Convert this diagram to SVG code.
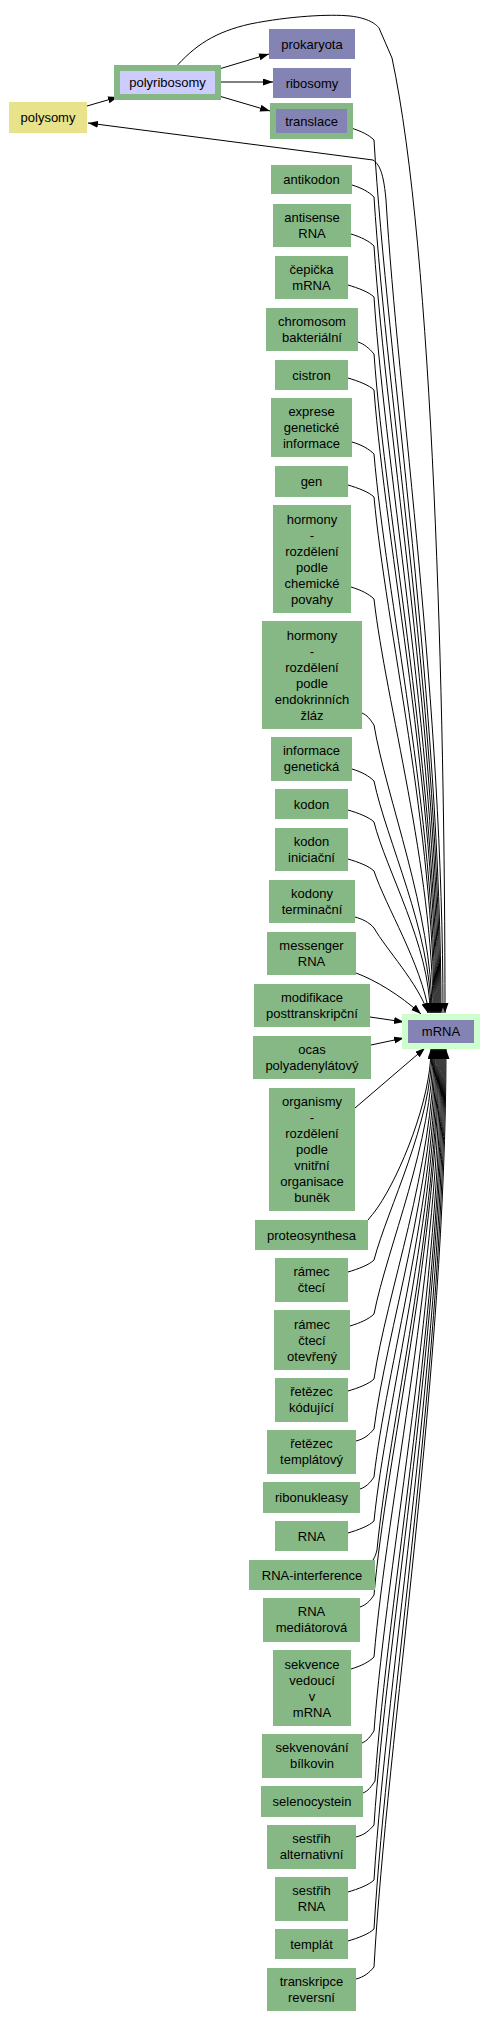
<svg xmlns="http://www.w3.org/2000/svg" width="484" height="2018" viewBox="0 0 484 2018">
<style>
.g{fill:#86b886}
.p{fill:#8484b4}
.l{fill:#ccccff}
.y{fill:#e8e28a}
.m{fill:#ccffcc}
text{font-family:"Liberation Sans",Arial,sans-serif;font-size:13px;fill:#000;text-anchor:middle}
.e path{fill:none;stroke:#000;stroke-width:1}
</style>
<defs>
<marker id="a" markerUnits="userSpaceOnUse" markerWidth="11" markerHeight="8" refX="10" refY="3.5" orient="auto">
<path d="M0,0 L10,3.5 L0,7 z" fill="#000"/>
</marker>
</defs>
<rect width="484" height="2018" fill="#fff"/>
<g class="e" id="connectors">
<path marker-end="url(#a)" d="M87,106 L118,97"/>
<path marker-end="url(#a)" d="M219,69 L269,54"/>
<path marker-end="url(#a)" d="M219,82 L273,82"/>
<path marker-end="url(#a)" d="M219,96 L270,111"/>
<path marker-end="url(#a)" d="M174,69 C195,45 215,32 250,24 C290,16 330,14 350,16 C368,18 376,24 379,28 L392,58 C433,250 445,700 445,1013"/>
<path marker-end="url(#a)" d="M443,1013 C443,700 398,400 386,200 C384,178 381,165 373,160 L88,123"/>
<path marker-end="url(#a)" d="M351,128 C361,131 369,135 374,140 C387,358 441,707 441,1013"/>
<path marker-end="url(#a)" d="M352,185 C362,188 369,192 374,197 C387,401 440,727 440,1013"/>
<path marker-end="url(#a)" d="M351,234 C361,237 369,241 374,246 C387,438 439,745 439,1013"/>
<path marker-end="url(#a)" d="M348,285 C358,288 369,292 374,297 C386,476 438,762 438,1013"/>
<path marker-end="url(#a)" d="M358,342 C364,344 369,348 374,354 C386,519 437,782 437,1013"/>
<path marker-end="url(#a)" d="M348,378 C358,381 369,385 374,390 C386,546 436,795 436,1013"/>
<path marker-end="url(#a)" d="M352,442 C362,445 369,449 374,454 C386,594 435,817 435,1013"/>
<path marker-end="url(#a)" d="M348,485 C358,488 369,492 374,497 C386,626 434,832 434,1013"/>
<path marker-end="url(#a)" d="M351,587 C361,590 369,594 374,599 C386,703 433,868 433,1013"/>
<path marker-end="url(#a)" d="M362,713 C367,715 370,719 374,725 C386,797 432,912 432,1013"/>
<path marker-end="url(#a)" d="M352,769 C362,772 369,776 374,781 C386,839 431,932 431,1013"/>
<path marker-end="url(#a)" d="M348,810 C358,813 369,817 374,822 C386,870 430,946 430,1013"/>
<path marker-end="url(#a)" d="M348,859 C358,862 369,866 374,871 C386,907 421,963 429,1013"/>
<path marker-end="url(#a)" d="M355,917 C362,919 369,922 374,928 C386,949 418,983 428,1013"/>
<path marker-end="url(#a)" d="M356,973 C375,980 400,995 421,1014"/>
<path marker-end="url(#a)" d="M370,1017 L404,1022"/>
<path marker-end="url(#a)" d="M371,1045 L404,1038"/>
<path marker-end="url(#a)" d="M355,1108 L425,1048"/>
<path marker-end="url(#a)" d="M368,1220 C371,1216 374,1213 378,1207 C400,1175 431,1100 431,1049"/>
<path marker-end="url(#a)" d="M348,1272 C358,1269 369,1265 374,1260 C388,1207 432,1123 432,1049"/>
<path marker-end="url(#a)" d="M350,1326 C360,1323 369,1319 374,1314 C387,1248 433,1142 433,1049"/>
<path marker-end="url(#a)" d="M348,1391 C358,1388 369,1384 374,1379 C386,1296 434,1165 434,1049"/>
<path marker-end="url(#a)" d="M356,1441 C364,1439 369,1435 374,1429 C386,1334 435,1182 435,1049"/>
<path marker-end="url(#a)" d="M360,1489 C366,1487 370,1483 374,1477 C386,1370 436,1199 436,1049"/>
<path marker-end="url(#a)" d="M348,1533 C358,1530 369,1526 374,1521 C386,1403 437,1214 437,1049"/>
<path marker-end="url(#a)" d="M373,1560 C375,1557 376,1554 377,1550 C389,1425 438,1224 438,1049"/>
<path marker-end="url(#a)" d="M360,1607 C366,1605 370,1601 374,1595 C386,1458 439,1240 439,1049"/>
<path marker-end="url(#a)" d="M351,1669 C361,1666 369,1662 374,1657 C387,1505 440,1262 440,1049"/>
<path marker-end="url(#a)" d="M362,1743 C367,1741 370,1737 374,1731 C387,1560 441,1288 441,1049"/>
<path marker-end="url(#a)" d="M363,1793 C368,1791 371,1787 375,1781 C388,1598 442,1305 442,1049"/>
<path marker-end="url(#a)" d="M356,1837 C364,1835 369,1831 374,1825 C387,1631 443,1321 443,1049"/>
<path marker-end="url(#a)" d="M348,1892 C358,1889 369,1885 374,1880 C387,1672 444,1340 444,1049"/>
<path marker-end="url(#a)" d="M348,1941 C358,1938 369,1934 374,1929 C387,1709 445,1357 445,1049"/>
<path marker-end="url(#a)" d="M356,1979 C364,1977 369,1973 374,1967 C387,1737 446,1370 446,1049"/>
</g>
<g id="polysomy"><rect class="y" x="9" y="102" width="78" height="31"/><text x="48" y="122">polysomy</text></g>
<g id="polyribosomy"><rect class="g" x="114" y="65" width="107" height="35"/><rect class="l" x="120" y="71" width="95" height="23"/><text x="167.5" y="87">polyribosomy</text></g>
<g id="prokaryota"><rect class="p" x="269" y="29" width="86" height="30"/><text x="312" y="48.5">prokaryota</text></g>
<g id="ribosomy"><rect class="p" x="273" y="68" width="78" height="30"/><text x="312" y="87.5">ribosomy</text></g>
<g id="translace"><rect class="g" x="270" y="103" width="83" height="36"/><rect class="p" x="276" y="109" width="71" height="24"/><text x="311.5" y="125.5">translace</text></g>
<g id="mRNA"><rect class="m" x="402" y="1014" width="78" height="35"/><rect class="p" x="408" y="1020" width="66" height="23"/><text x="441" y="1036">mRNA</text></g>
<g id="antikodon"><rect class="g" x="271" y="165" width="81" height="29"/><text x="311.5" y="184">antikodon</text></g>
<g id="antisense_RNA"><rect class="g" x="273" y="204" width="78" height="43"/><text x="312" y="221.5">antisense</text><text x="312" y="237.5">RNA</text></g>
<g id="cepicka_mRNA"><rect class="g" x="275" y="256" width="73" height="43"/><text x="311.5" y="273.5">čepička</text><text x="311.5" y="289.5">mRNA</text></g>
<g id="chromosom_bakterialni"><rect class="g" x="266" y="308" width="92" height="43"/><text x="312" y="325.5">chromosom</text><text x="312" y="341.5">bakteriální</text></g>
<g id="cistron"><rect class="g" x="275" y="360" width="73" height="30"/><text x="311.5" y="379.5">cistron</text></g>
<g id="exprese"><rect class="g" x="271" y="398" width="81" height="59"/><text x="311.5" y="416">exprese</text><text x="311.5" y="432">genetické</text><text x="311.5" y="448">informace</text></g>
<g id="gen"><rect class="g" x="275" y="466" width="73" height="31"/><text x="311.5" y="486">gen</text></g>
<g id="hormony_chem"><rect class="g" x="273" y="505" width="78" height="108"/><text x="312" y="523.5">hormony</text><text x="312" y="539.5">-</text><text x="312" y="555.5">rozdělení</text><text x="312" y="571.5">podle</text><text x="312" y="587.5">chemické</text><text x="312" y="603.5">povahy</text></g>
<g id="hormony_endo"><rect class="g" x="262" y="621" width="100" height="108"/><text x="312" y="639.5">hormony</text><text x="312" y="655.5">-</text><text x="312" y="671.5">rozdělení</text><text x="312" y="687.5">podle</text><text x="312" y="703.5">endokrinních</text><text x="312" y="719.5">žláz</text></g>
<g id="informace_geneticka"><rect class="g" x="271" y="737" width="81" height="44"/><text x="311.5" y="755">informace</text><text x="311.5" y="771">genetická</text></g>
<g id="kodon"><rect class="g" x="275" y="789" width="73" height="30"/><text x="311.5" y="808.5">kodon</text></g>
<g id="kodon_iniciacni"><rect class="g" x="275" y="828" width="73" height="43"/><text x="311.5" y="845.5">kodon</text><text x="311.5" y="861.5">iniciační</text></g>
<g id="kodony_terminacni"><rect class="g" x="269" y="880" width="86" height="43"/><text x="312" y="897.5">kodony</text><text x="312" y="913.5">terminační</text></g>
<g id="messenger_RNA"><rect class="g" x="267" y="932" width="89" height="43"/><text x="311.5" y="949.5">messenger</text><text x="311.5" y="965.5">RNA</text></g>
<g id="modifikace"><rect class="g" x="254" y="984" width="116" height="43"/><text x="312" y="1001.5">modifikace</text><text x="312" y="1017.5">posttranskripční</text></g>
<g id="ocas"><rect class="g" x="253" y="1036" width="118" height="43"/><text x="312" y="1053.5">ocas</text><text x="312" y="1069.5">polyadenylátový</text></g>
<g id="organismy"><rect class="g" x="269" y="1088" width="86" height="123"/><text x="312" y="1106">organismy</text><text x="312" y="1122">-</text><text x="312" y="1138">rozdělení</text><text x="312" y="1154">podle</text><text x="312" y="1170">vnitřní</text><text x="312" y="1186">organisace</text><text x="312" y="1202">buněk</text></g>
<g id="proteosynthesa"><rect class="g" x="255" y="1220" width="113" height="30"/><text x="311.5" y="1239.5">proteosynthesa</text></g>
<g id="ramec_cteci"><rect class="g" x="275" y="1258" width="73" height="44"/><text x="311.5" y="1276">rámec</text><text x="311.5" y="1292">čtecí</text></g>
<g id="ramec_oteverny"><rect class="g" x="274" y="1310" width="76" height="60"/><text x="312" y="1328.5">rámec</text><text x="312" y="1344.5">čtecí</text><text x="312" y="1360.5">otevřený</text></g>
<g id="retezec_kodujici"><rect class="g" x="275" y="1378" width="73" height="44"/><text x="311.5" y="1396">řetězec</text><text x="311.5" y="1412">kódující</text></g>
<g id="retezec_templatovy"><rect class="g" x="267" y="1430" width="89" height="44"/><text x="311.5" y="1448">řetězec</text><text x="311.5" y="1464">templátový</text></g>
<g id="ribonukleasy"><rect class="g" x="263" y="1482" width="97" height="31"/><text x="311.5" y="1502">ribonukleasy</text></g>
<g id="RNA"><rect class="g" x="275" y="1521" width="73" height="30"/><text x="311.5" y="1540.5">RNA</text></g>
<g id="RNA_interference"><rect class="g" x="249" y="1560" width="126" height="30"/><text x="312" y="1579.5">RNA-interference</text></g>
<g id="RNA_mediatorova"><rect class="g" x="263" y="1598" width="97" height="44"/><text x="311.5" y="1616">RNA</text><text x="311.5" y="1632">mediátorová</text></g>
<g id="sekvence_vedouci"><rect class="g" x="273" y="1650" width="78" height="76"/><text x="312" y="1668.5">sekvence</text><text x="312" y="1684.5">vedoucí</text><text x="312" y="1700.5">v</text><text x="312" y="1716.5">mRNA</text></g>
<g id="sekvenovani"><rect class="g" x="262" y="1734" width="100" height="44"/><text x="312" y="1752">sekvenování</text><text x="312" y="1768">bílkovin</text></g>
<g id="selenocystein"><rect class="g" x="261" y="1786" width="102" height="31"/><text x="312" y="1806">selenocystein</text></g>
<g id="sestrih_alt"><rect class="g" x="267" y="1825" width="89" height="44"/><text x="311.5" y="1843">sestřih</text><text x="311.5" y="1859">alternativní</text></g>
<g id="sestrih_RNA"><rect class="g" x="275" y="1877" width="73" height="44"/><text x="311.5" y="1895">sestřih</text><text x="311.5" y="1911">RNA</text></g>
<g id="templat"><rect class="g" x="275" y="1929" width="73" height="30"/><text x="311.5" y="1948.5">templát</text></g>
<g id="transkripce"><rect class="g" x="267" y="1968" width="89" height="43"/><text x="311.5" y="1985.5">transkripce</text><text x="311.5" y="2001.5">reversní</text></g>
</svg>
